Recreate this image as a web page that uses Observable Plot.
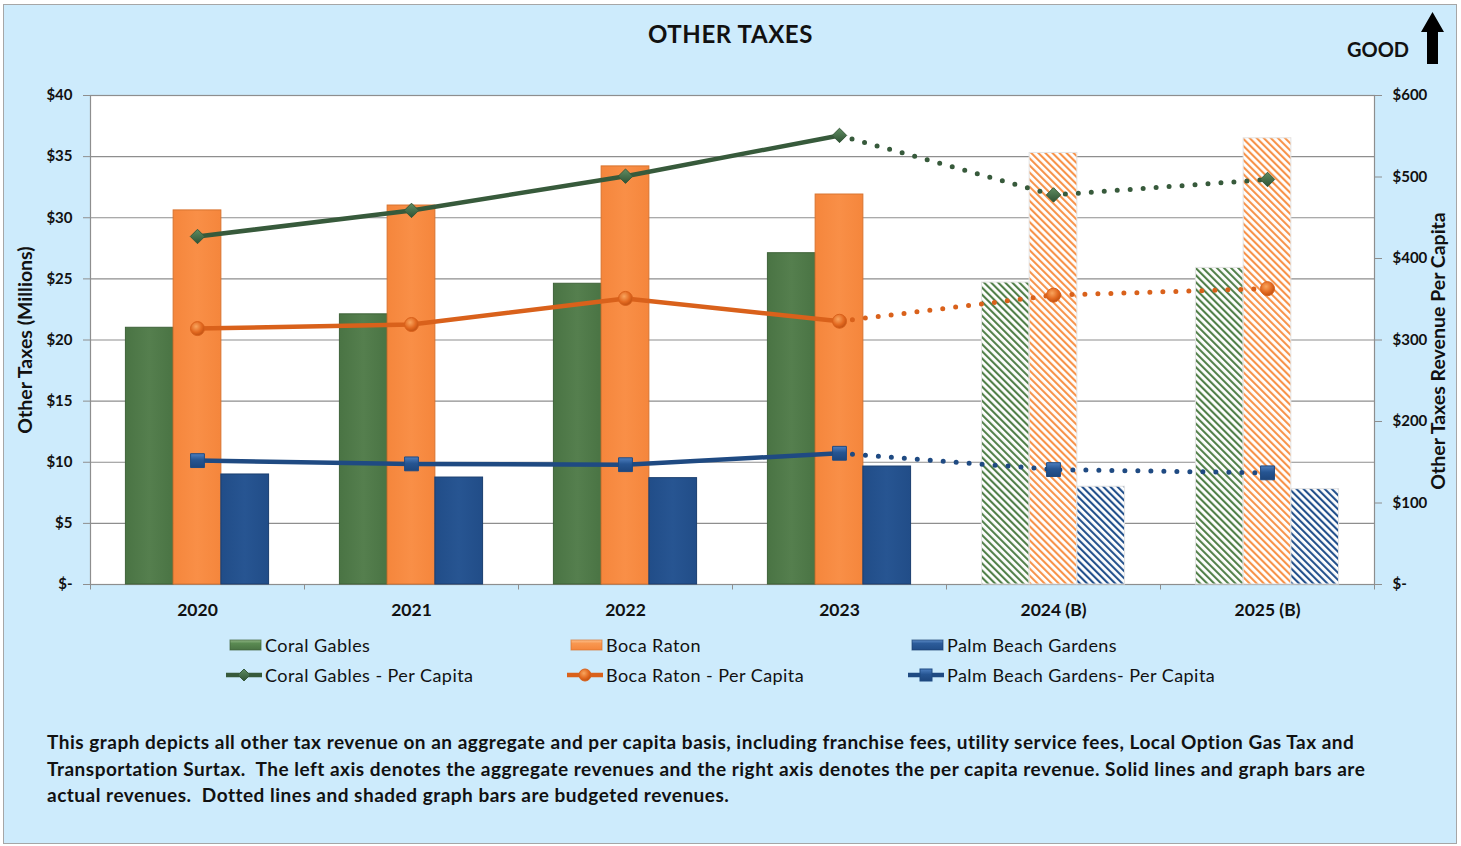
<!DOCTYPE html>
<html><head><meta charset="utf-8">
<script src="https://cdn.jsdelivr.net/npm/d3@7"></script>
<script src="https://cdn.jsdelivr.net/npm/@observablehq/plot@0.6"></script>
<style>
body{margin:0;background:#fff;font-family:Lato,"Open Sans",sans-serif;}
#page{position:relative;width:1461px;height:846px;overflow:hidden;}
#panel{position:absolute;left:3px;top:4px;width:1452px;height:838px;background:#cdebfc;border:1px solid #a6a6a6;}
#chart{position:absolute;left:0;top:0;}
#title{position:absolute;left:0;width:1461px;top:19px;text-align:center;font-weight:700;font-size:24px;letter-spacing:0.6px;color:#111;}
#good{position:absolute;left:1347px;top:37px;font-weight:700;font-size:20px;color:#111;}
#arrow{position:absolute;left:1418px;top:10px;}
.leg{position:absolute;font-size:18px;letter-spacing:0.45px;color:#111;display:flex;align-items:center;white-space:nowrap;}
.leg svg{margin-right:3px;}
#caption{position:absolute;left:47px;top:729px;font-weight:700;font-size:19px;letter-spacing:0.5px;line-height:26.5px;color:#111;white-space:nowrap;}
.axlab text{letter-spacing:0.3px;}
</style></head>
<body>
<svg width="0" height="0" style="position:absolute">
<defs>
  <pattern id="hatch-cg" patternUnits="userSpaceOnUse" width="5" height="5" patternTransform="rotate(-45)">
    <rect width="5" height="5" fill="#fff"/><rect width="2.1" height="5" fill="#52804a"/></pattern>
  <pattern id="hatch-br" patternUnits="userSpaceOnUse" width="5" height="5" patternTransform="rotate(-45)">
    <rect width="5" height="5" fill="#fff"/><rect width="2.1" height="5" fill="#f7934a"/></pattern>
  <pattern id="hatch-pbg" patternUnits="userSpaceOnUse" width="5" height="5" patternTransform="rotate(-45)">
    <rect width="5" height="5" fill="#fff"/><rect width="2.1" height="5" fill="#24518c"/></pattern>
  <linearGradient id="g-cg" x1="0" x2="1" y1="0" y2="0">
    <stop offset="0" stop-color="#4a7444"/><stop offset="0.5" stop-color="#557f4e"/><stop offset="1" stop-color="#4a7444"/></linearGradient>
  <linearGradient id="g-br" x1="0" x2="1" y1="0" y2="0">
    <stop offset="0" stop-color="#f5863c"/><stop offset="0.5" stop-color="#f98f47"/><stop offset="1" stop-color="#f5863c"/></linearGradient>
  <linearGradient id="g-pbg" x1="0" x2="1" y1="0" y2="0">
    <stop offset="0" stop-color="#214d88"/><stop offset="0.5" stop-color="#275592"/><stop offset="1" stop-color="#214d88"/></linearGradient>
  <linearGradient id="s-cg" x1="0" x2="0" y1="0" y2="1">
    <stop offset="0" stop-color="#8fb584"/><stop offset="0.35" stop-color="#5a8a52"/><stop offset="1" stop-color="#4a7444"/></linearGradient>
  <linearGradient id="s-br" x1="0" x2="0" y1="0" y2="1">
    <stop offset="0" stop-color="#fcc08c"/><stop offset="0.35" stop-color="#f89750"/><stop offset="1" stop-color="#f5863c"/></linearGradient>
  <linearGradient id="s-pbg" x1="0" x2="0" y1="0" y2="1">
    <stop offset="0" stop-color="#5d8cc8"/><stop offset="0.35" stop-color="#2c5c9a"/><stop offset="1" stop-color="#214d88"/></linearGradient>
  <radialGradient id="ball" cx="0.4" cy="0.35" r="0.7">
    <stop offset="0" stop-color="#f9a55e"/><stop offset="0.6" stop-color="#e2681f"/><stop offset="1" stop-color="#b94d10"/></radialGradient>
  <linearGradient id="sq" x1="0" x2="0" y1="0" y2="1">
    <stop offset="0" stop-color="#4d7fc0"/><stop offset="0.45" stop-color="#265592"/><stop offset="1" stop-color="#1d467d"/></linearGradient>
  <linearGradient id="dia" x1="0" x2="0" y1="0" y2="1">
    <stop offset="0" stop-color="#5f8d62"/><stop offset="1" stop-color="#2f5234"/></linearGradient>
</defs></svg>
<div id="page">
  <div id="panel"></div>
  <div id="chart"></div>
  <div id="title">OTHER TAXES</div>
  <div id="good">GOOD</div>
  <svg id="arrow" width="30" height="56"><path d="M9 54 V22 H3 L14.5 2 L26 22 H20 V54 Z" fill="#000"/></svg>
  <div id="legend"></div>
  <div id="caption">This graph depicts all other tax revenue on an aggregate and per capita basis, including franchise fees, utility service fees, Local Option Gas Tax and<br>Transportation Surtax.&nbsp; The left axis denotes the aggregate revenues and the right axis denotes the per capita revenue. Solid lines and graph bars are<br>actual revenues.&nbsp; Dotted lines and shaded graph bars are budgeted revenues.</div>
</div>
<script>
// ---- data ----
const years = ["2020", "2021", "2022", "2023", "2024 (B)", "2025 (B)"];
const budgeted = [false, false, false, false, true, true];
const coralGables = [21.0, 22.1, 24.6, 27.1, 24.7, 25.9];
const bocaRaton = [30.6, 31.0, 34.2, 31.9, 35.3, 36.5];
const palmBeachGardens = [9.0, 8.75, 8.7, 9.65, 8.0, 7.8];
const coralGablesPerCapita = [427, 459, 501, 551, 478, 497];
const bocaRatonPerCapita = [314, 319, 351, 323, 355, 363];
const palmBeachGardensPerCapita = [152, 148, 147, 161, 141, 137];
const leftTicks = [0, 5, 10, 15, 20, 25, 30, 35, 40];
const rightTicks = [0, 100, 200, 300, 400, 500, 600];
const seriesNames = ["Coral Gables", "Boca Raton", "Palm Beach Gardens"];
const lineNames = ["Coral Gables - Per Capita", "Boca Raton - Per Capita", "Palm Beach Gardens- Per Capita"];

// ---- layout ----
const W = 1461, H = 630, ML = 90, MR = 87, MT = 95, MB = 46;
const k = 40 / 600; // right axis -> left axis units
const bw = (W - ML - MR) / years.length;
const barW = bw * 0.223;
const gap0 = (bw - 3 * barW) / 2;
const grid = "#8e8e8e";

function bars(vals, idx, solid, hatch, stroke) {
  const data = years.map((y, i) => ({year: y, value: vals[i], budget: budgeted[i]}));
  const insetLeft = gap0 + idx * barW, insetRight = bw - gap0 - (idx + 1) * barW;
  return [
    Plot.barY(data.filter(d => !d.budget), {x: "year", y: "value", fill: solid, stroke, strokeWidth: 1, insetLeft, insetRight}),
    Plot.barY(data.filter(d => d.budget), {x: "year", y: "value", fill: hatch, stroke: "#e3e3e3", strokeWidth: 1, insetLeft, insetRight})
  ];
}
function perCapita(vals, color, symbol, r, markerFill) {
  const data = years.map((y, i) => ({year: y, v: vals[i] * k}));
  return [
    Plot.line(data.slice(0, 4), {x: "year", y: "v", stroke: color, strokeWidth: 4.5}),
    Plot.line(data.slice(3), {x: "year", y: "v", stroke: color, strokeWidth: 5, strokeDasharray: "0 13", strokeLinecap: "round"}),
    Plot.dot(data, {x: "year", y: "v", symbol, r, fill: markerFill, stroke: color, strokeWidth: 1})
  ];
}
const fmt = v => v === 0 ? "$-" : "$" + v;

const chart = Plot.plot({
  width: W, height: H, marginLeft: ML, marginRight: MR, marginTop: MT, marginBottom: MB,
  style: {background: "transparent", fontFamily: "Lato, sans-serif", color: "#111", overflow: "visible"},
  x: {domain: years, type: "band", padding: 0},
  y: {domain: [0, 40]},
  marks: [
    Plot.frame({fill: "white", stroke: null}),
    Plot.gridY(leftTicks, {stroke: grid, strokeOpacity: 1, strokeWidth: 1.2}),
    Plot.frame({stroke: grid, strokeWidth: 1.2}),
    Plot.axisY(leftTicks, {anchor: "left", tickSize: 7, tickPadding: 11, stroke: grid, fontSize: 15, fontWeight: "bold", tickFormat: fmt, label: null}),
    Plot.axisY(rightTicks.map(v => v * k), {anchor: "right", tickSize: 7, tickPadding: 11, stroke: grid, fontSize: 15, fontWeight: "bold", tickFormat: d => fmt(Math.round(d / k)), label: null}),
    Plot.text(["Other Taxes (Millions)"], {frameAnchor: "left", textAnchor: "middle", dx: -65, rotate: -90, fontSize: 19.5, fontWeight: "bold"}),
    Plot.text(["Other Taxes Revenue Per Capita"], {frameAnchor: "right", textAnchor: "middle", dx: 64, dy: 11, rotate: -90, fontSize: 19.5, fontWeight: "bold"}),
    Plot.ruleX(years, {x: d => d, dx: -bw / 2, y1: 0, y2: -0.45, stroke: grid}),
    Plot.ruleX([years[years.length - 1]], {x: d => d, dx: bw / 2, y1: 0, y2: -0.45, stroke: grid}),
    Plot.axisX({tickSize: 0, tickPadding: 19, fontSize: 17.5, fontWeight: "bold", label: null}),
    ...bars(coralGables, 0, "url(#g-cg)", "url(#hatch-cg)", "#3f6339"),
    ...bars(bocaRaton, 1, "url(#g-br)", "url(#hatch-br)", "#d8732e"),
    ...bars(palmBeachGardens, 2, "url(#g-pbg)", "url(#hatch-pbg)", "#1b3f70"),
    ...perCapita(coralGablesPerCapita, "#375a3b", "diamond2", 6.5, "url(#dia)"),
    ...perCapita(bocaRatonPerCapita, "#d9611b", "circle", 7, "url(#ball)"),
    ...perCapita(palmBeachGardensPerCapita, "#1f4a82", "square", 7.8, "url(#sq)")
  ]
});
document.getElementById("chart").appendChild(chart);

// ---- legend ----
const leg = document.getElementById("legend");
const barFills = ["url(#s-cg)", "url(#s-br)", "url(#s-pbg)"];
const barStrokes = ["#3f6339", "#d8732e", "#1b3f70"];
const lineColors = ["#375a3b", "#d9611b", "#1f4a82"];
const markerSvg = [
  '<path d="M18 1 L24 7 L18 13 L12 7 Z" fill="url(#dia)" stroke="#375a3b"/>',
  '<circle cx="18" cy="7" r="6" fill="url(#ball)" stroke="#d9611b"/>',
  '<rect x="12" y="1" width="12" height="12" fill="url(#sq)" stroke="#1f4a82"/>'
];
const colX = [229, 570, 911];
seriesNames.forEach((name, i) => {
  const d = document.createElement("div");
  d.className = "leg";
  d.style.left = colX[i] + "px"; d.style.top = "634px";
  d.innerHTML = `<svg width="33" height="14"><rect x="1" y="2" width="31" height="10" fill="${barFills[i]}" stroke="${barStrokes[i]}" stroke-opacity="0.7"/></svg>${name}`;
  leg.appendChild(d);
});
lineNames.forEach((name, i) => {
  const d = document.createElement("div");
  d.className = "leg";
  d.style.left = (colX[i] - 3) + "px"; d.style.top = "664px";
  d.innerHTML = `<svg width="36" height="14"><line x1="0" x2="36" y1="7" y2="7" stroke="${lineColors[i]}" stroke-width="4.5"/>${markerSvg[i]}</svg>${name}`;
  leg.appendChild(d);
});
</script>
</body></html>
